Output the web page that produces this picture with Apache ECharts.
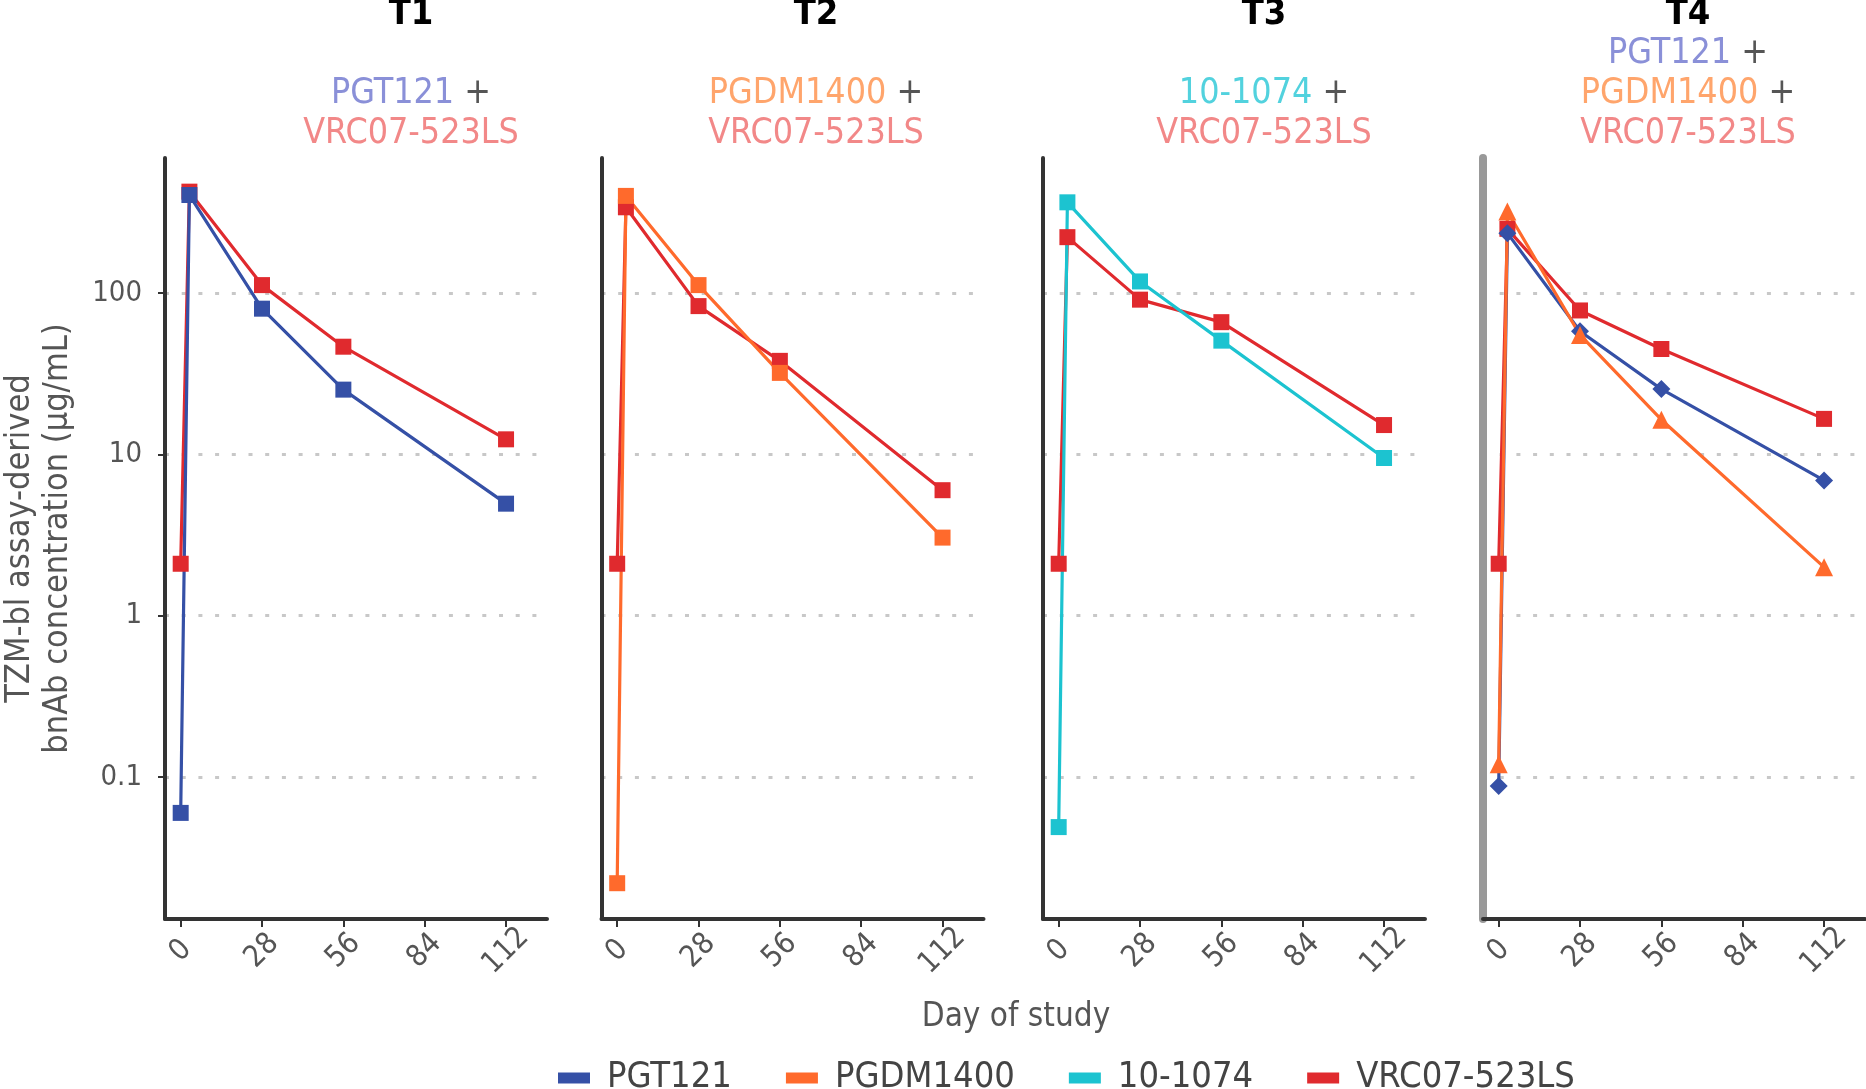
<!DOCTYPE html>
<html>
<head>
<meta charset="utf-8">
<script src="https://cdn.jsdelivr.net/npm/echarts@6/dist/echarts.min.js"></script>
<style>
  html, body { margin: 0; padding: 0; background: #fff; }
  #chart { width: 1866px; height: 1089px; }
</style>
</head>
<body>
<div id="chart"></div>
<script>
  // 数据
  var days = [0, 3, 28, 56, 112];
  var dayTicks = [0, 28, 56, 84, 112];
  var concTicks = [0.1, 1, 10, 100];
  var groups = ["T1", "T2", "T3", "T4"];
  var antibodies = ["PGT121", "PGDM1400", "10-1074", "VRC07-523LS"];

  var t1_PGT121 = [0.06, 405, 80, 25.2, 4.95];
  var t1_VRC07 = [2.1, 425, 112, 46.5, 12.4];
  var t2_PGDM1400 = [0.022, 400, 112, 32, 3.05];
  var t2_VRC07 = [2.1, 340, 83, 38, 6.0];
  var t3_10_1074 = [0.049, 365, 118, 50.7, 9.5];
  var t3_VRC07 = [2.1, 222, 91, 66, 15.2];
  var t4_PGT121 = [0.088, 235, 58, 25.4, 6.9];
  var t4_PGDM1400 = [0.12, 320, 55, 16.4, 2.0];
  var t4_VRC07 = [2.1, 250, 78, 45, 16.6];

  var lineColors = {
    "PGT121": "#3550a6",
    "PGDM1400": "#ff6a2c",
    "10-1074": "#1cc3d0",
    "VRC07-523LS": "#e02a2e",
  };
  var textColors = {
    "PGT121": "#8a90d8",
    "PGDM1400": "#ffa56c",
    "10-1074": "#52d2de",
    "VRC07-523LS": "#f28888",
  };

  var FONT = "'DejaVu Sans Condensed', 'Liberation Sans', sans-serif";

  // 每个面板的曲线
  var panels = [
    [
      { name: "VRC07-523LS", values: t1_VRC07, symbol: "rect" },
      { name: "PGT121", values: t1_PGT121, symbol: "rect" },
    ],
    [
      { name: "VRC07-523LS", values: t2_VRC07, symbol: "rect" },
      { name: "PGDM1400", values: t2_PGDM1400, symbol: "rect" },
    ],
    [
      { name: "VRC07-523LS", values: t3_VRC07, symbol: "rect" },
      { name: "10-1074", values: t3_10_1074, symbol: "rect" },
    ],
    [
      { name: "VRC07-523LS", values: t4_VRC07, symbol: "rect" },
      { name: "PGT121", values: t4_PGT121, symbol: "diamond" },
      { name: "PGDM1400", values: t4_PGDM1400, symbol: "triangle" },
    ],
  ];
  var panelTitles = [
    [["PGT121", true], ["VRC07-523LS", false]],
    [["PGDM1400", true], ["VRC07-523LS", false]],
    [["10-1074", true], ["VRC07-523LS", false]],
    [["PGT121", true], ["PGDM1400", true], ["VRC07-523LS", false]],
  ];

  var gridLeft = [165, 601.5, 1043, 1483];
  var titleX = [411, 816, 1264, 1688];

  var chartDom = document.getElementById("chart");
  var myChart = echarts.init(chartDom);

  var grids = [], xAxes = [], yAxes = [], series = [], graphics = [];

  for (var i = 0; i < 4; i++) {
    grids.push({
      left: gridLeft[i],
      top: 158,
      width: 382,
      height: 761,
      containLabel: false,
      outerBoundsMode: "none",
    });

    xAxes.push({
      type: "value",
      gridIndex: i,
      min: -5.4,
      max: 126.1,
      axisLine: { onZero: false, lineStyle: { color: "#333", width: 4 } },
      axisTick: {
        show: true,
        customValues: dayTicks,
        length: 8,
        lineStyle: { color: "#333", width: 2 },
      },
      axisLabel: {
        customValues: dayTicks,
        rotate: 45,
        align: "center",
        verticalAlign: "middle",
        margin: 32,
        fontSize: 30,
        color: "#555",
        fontFamily: FONT,
      },
      splitLine: { show: false },
    });

    yAxes.push({
      type: "log",
      logBase: 10,
      gridIndex: i,
      min: 0.0132,
      max: 687,
      name: i === 0 ? "TZM-bl assay-derived\nbnAb concentration (µg/mL)" : "",
      nameLocation: "middle",
      nameRotate: 90,
      nameGap: 88,
      nameTextStyle: { fontSize: 34, lineHeight: 38, color: "#555", fontFamily: FONT },
      axisLine: {
        show: true,
        onZero: false,
        lineStyle: { color: i === 3 ? "#999" : "#333", width: i === 3 ? 8 : 4 },
      },
      axisTick: {
        show: i === 0,
        customValues: concTicks,
        length: 7,
        lineStyle: { color: "#333", width: 2 },
      },
      axisLabel: {
        show: i === 0,
        customValues: concTicks,
        margin: 23,
        fontSize: 29,
        color: "#555",
        fontFamily: FONT,
        formatter: function (v) {
          return v < 1 ? v.toFixed(1) : String(Math.round(v));
        },
      },
      splitLine: {
        show: true,
        lineStyle: { color: "#c8c8c8", width: 3, type: [4, 12.7] },
      },
    });

    panels[i].forEach(function (p) {
      series.push({
        name: p.name,
        type: "line",
        xAxisIndex: i,
        yAxisIndex: i,
        data: days.map(function (d, k) {
          return [d, p.values[k]];
        }),
        symbol: p.symbol,
        symbolSize: p.symbol === "rect" ? 16 : 18,
        showAllSymbol: true,
        color: lineColors[p.name],
        lineStyle: { width: 3.2, color: lineColors[p.name] },
        itemStyle: { color: lineColors[p.name] },
        emphasis: { disabled: true },
      });
    });

    // 面板标题
    graphics.push({
      type: "text",
      x: titleX[i],
      y: 15,
      style: {
        text: groups[i],
        fontSize: 36,
        fontWeight: "bold",
        fontFamily: FONT,
        fill: "#000",
        align: "center",
        verticalAlign: "middle",
      },
    });
    var lines = panelTitles[i];
    var y0 = 134 - (lines.length - 1) * 40;
    lines.forEach(function (ln, k) {
      var rich = {
        a: { fill: textColors[ln[0]], fontSize: 35.5, fontFamily: FONT },
        p: { fill: "#555", fontSize: 35.5, fontFamily: FONT },
      };
      graphics.push({
        type: "text",
        x: titleX[i],
        y: y0 + k * 40,
        style: {
          text: "{a|" + ln[0] + "}" + (ln[1] ? "{p| +}" : ""),
          rich: rich,
          fontSize: 35.5,
          fontFamily: FONT,
          align: "center",
          verticalAlign: "middle",
        },
      });
    });
  }

  graphics.push({
    type: "text",
    x: 1016,
    y: 1017,
    style: {
      text: "Day of study",
      fontSize: 33,
      fontFamily: FONT,
      fill: "#555",
      align: "center",
      verticalAlign: "middle",
    },
  });

  var option = {
    animation: false,
    textStyle: { fontFamily: FONT },
    grid: grids,
    xAxis: xAxes,
    yAxis: yAxes,
    series: series,
    graphic: graphics,
    legend: {
      data: antibodies,
      left: 553,
      top: 1055,
      icon: "rect",
      itemWidth: 32,
      itemHeight: 11,
      itemGap: 54,
      selectedMode: false,
      textStyle: {
        fontSize: 36,
        color: "#444",
        fontFamily: FONT,
        padding: [0, 0, 0, 12],
      },
    },
  };

  option && myChart.setOption(option);
</script>
</body>
</html>
